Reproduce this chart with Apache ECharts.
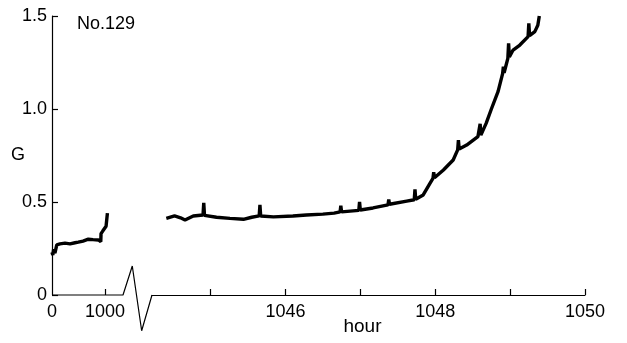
<!DOCTYPE html>
<html><head><meta charset="utf-8">
<script src="https://cdn.jsdelivr.net/npm/echarts@6/dist/echarts.min.js"></script>
<style>html,body{margin:0;padding:0;background:#fff}#c{width:627px;height:343px}</style>
</head><body><div id="c"></div>
<script>
// Segment 1: 0 .. ~1045 h (compressed scale)
const earlyHours = [0, 15, 30, 55, 90, 150, 245, 340, 434, 496, 585, 685, 774, 874, 920, 925, 960, 987, 1020, 1040, 1045];
const earlyG     = [0.23, 0.215, 0.245, 0.225, 0.27, 0.275, 0.279, 0.275, 0.281, 0.284, 0.29, 0.30, 0.298, 0.296, 0.287, 0.33, 0.345, 0.353, 0.37, 0.38, 0.44];
// Segment 2: 1044.4 .. 1049.4 h (expanded scale)
const lateHours = [1044.41, 1044.52, 1044.60, 1044.66, 1044.77, 1044.90, 1044.91, 1044.92, 1045.08, 1045.26, 1045.44, 1045.55, 1045.65, 1045.66, 1045.67, 1045.84, 1046.10, 1046.28, 1046.50, 1046.65, 1046.73, 1046.74, 1046.75, 1046.98, 1046.99, 1047.00, 1047.17, 1047.37, 1047.38, 1047.39, 1047.62, 1047.72, 1047.73, 1047.74, 1047.84, 1047.93, 1047.97, 1047.98, 1047.99, 1048.11, 1048.24, 1048.30, 1048.31, 1048.32, 1048.42, 1048.57, 1048.60, 1048.61, 1048.68, 1048.75, 1048.84, 1048.90, 1048.91, 1048.92, 1048.97, 1048.98, 1048.99, 1049.04, 1049.13, 1049.24, 1049.25, 1049.26, 1049.33, 1049.37, 1049.39];
const lateG     = [0.412, 0.425, 0.415, 0.403, 0.425, 0.43, 0.496, 0.428, 0.418, 0.412, 0.407, 0.418, 0.425, 0.484, 0.425, 0.42, 0.425, 0.43, 0.435, 0.44, 0.447, 0.48, 0.447, 0.455, 0.50, 0.457, 0.468, 0.485, 0.514, 0.488, 0.505, 0.512, 0.568, 0.515, 0.538, 0.60, 0.627, 0.66, 0.63, 0.672, 0.726, 0.78, 0.833, 0.785, 0.806, 0.851, 0.92, 0.86, 0.923, 1.0, 1.095, 1.19, 1.227, 1.195, 1.272, 1.353, 1.28, 1.317, 1.344, 1.389, 1.46, 1.395, 1.416, 1.45, 1.5];
// baseline of segment 1 with the axis-break marker (segment-1 units)
const breakMarkX = [0, 1340, 1515, 1692, 1887];
const breakMarkY = [0, 0, 0.156, -0.192, 0];
const earlyTickLabels = [0, 1000];
const lateTicks = [1045, 1046, 1047, 1048, 1049, 1050];
const lateTickLabels = [1046, 1048, 1050];

const FONT = 'Liberation Sans';
const zip = (a, b) => a.map((v, i) => [v, b[i]]);
const chart = echarts.init(document.getElementById('c'), null, {renderer: 'canvas'});
const blackLine = {color: '#000', width: 1.2};
const PX_PER_G = 186;
const gridBase = {containLabel: false, outerBoundsMode: 'none'};
chart.setOption({
  animation: false,
  title: {text: 'No.129', left: 72, top: 10, textStyle: {fontFamily: FONT, fontSize: 18, fontWeight: 'normal', color: '#000'}},
  grid: [
    Object.assign({left: 52, top: 16, width: 72, height: 279}, gridBase),
    Object.assign({left: 152, top: 16, width: 433, height: 279}, gridBase),
    Object.assign({left: 52, top: 295 - 0.2 * PX_PER_G, width: 100, height: 0.4 * PX_PER_G}, gridBase)
  ],
  xAxis: [
    {type: 'value', gridIndex: 0, min: 0, max: 1358,
     axisLine: {show: false},
     splitLine: {show: false},
     axisTick: {inside: true, length: 6, customValues: [1000], lineStyle: blackLine},
     axisLabel: {customValues: earlyTickLabels, margin: 8, fontFamily: FONT, fontSize: 18, color: '#000',
                 formatter: v => String(v)}},
    {type: 'value', gridIndex: 1, min: 1044.219, max: 1050,
     axisLine: {show: true, lineStyle: blackLine},
     splitLine: {show: false},
     axisTick: {inside: true, length: 6, customValues: lateTicks, lineStyle: blackLine},
     axisLabel: {customValues: lateTickLabels, margin: 8, fontFamily: FONT, fontSize: 18, color: '#000',
                 formatter: v => String(v)},
     name: 'hour', nameLocation: 'middle', nameGap: 22, nameMoveOverlap: false,
     nameTextStyle: {fontFamily: FONT, fontSize: 19, color: '#000', padding: [0, 12, 0, 0]}},
    {type: 'value', gridIndex: 2, min: 0, max: 1887, show: false}
  ],
  yAxis: [
    {type: 'value', gridIndex: 0, min: 0, max: 1.5, interval: 0.5,
     axisLine: {show: true, lineStyle: blackLine},
     splitLine: {show: false},
     axisTick: {inside: true, length: 6, lineStyle: blackLine},
     axisLabel: {margin: 5, fontFamily: FONT, fontSize: 18, color: '#000',
                 formatter: v => v === 0 ? '0' : v.toFixed(1)},
     name: 'G', nameLocation: 'middle', nameGap: 27, nameRotate: 0, nameMoveOverlap: false,
     nameTextStyle: {fontFamily: FONT, fontSize: 18, color: '#000'}},
    {type: 'value', gridIndex: 1, min: 0, max: 1.5, show: false},
    {type: 'value', gridIndex: 2, min: -0.2, max: 0.2, show: false}
  ],
  series: [
    {type: 'line', xAxisIndex: 0, yAxisIndex: 0, data: zip(earlyHours, earlyG), symbol: 'none',
     lineStyle: {color: '#000', width: 3.4}, clip: false},
    {type: 'line', xAxisIndex: 1, yAxisIndex: 1, data: zip(lateHours, lateG), symbol: 'none',
     lineStyle: {color: '#000', width: 3.4}, clip: false},
    {type: 'line', xAxisIndex: 2, yAxisIndex: 2, data: zip(breakMarkX, breakMarkY), symbol: 'none',
     lineStyle: blackLine, clip: false, silent: true}
  ]
});
</script></body></html>
